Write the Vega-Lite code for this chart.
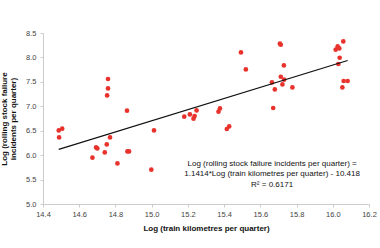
{
  "$schema": "https://vega.github.io/schema/vega-lite/v6.json",
  "width": 326,
  "height": 171,
  "autosize": {"type": "none"},
  "padding": {"left": 43, "top": 33, "right": 11, "bottom": 44},
  "background": "white",
  "config": {
    "view": {"stroke": null},
    "font": "Liberation Sans",
    "axis": {
      "grid": false,
      "domainColor": "#cccccc",
      "tickColor": "#cccccc",
      "tickSize": 3,
      "labelFont": "Liberation Sans",
      "labelFontSize": 7.5,
      "labelColor": "#444444",
      "titleFont": "Liberation Sans",
      "titleFontSize": 8,
      "titleFontWeight": "bold",
      "titleColor": "#111111"
    }
  },
  "datasets": {
    "points": [
      {"km": 14.487, "inc": 6.506}, {"km": 14.506, "inc": 6.541}, {"km": 14.489, "inc": 6.363},
      {"km": 14.673, "inc": 5.948}, {"km": 14.693, "inc": 6.158}, {"km": 14.700, "inc": 6.138},
      {"km": 14.741, "inc": 6.056}, {"km": 14.752, "inc": 6.220}, {"km": 14.770, "inc": 6.363},
      {"km": 14.759, "inc": 7.558}, {"km": 14.759, "inc": 7.366}, {"km": 14.754, "inc": 7.223},
      {"km": 14.811, "inc": 5.831}, {"km": 14.864, "inc": 6.910}, {"km": 14.866, "inc": 6.077},
      {"km": 14.875, "inc": 6.077}, {"km": 14.998, "inc": 5.702}, {"km": 15.013, "inc": 6.506},
      {"km": 15.180, "inc": 6.787}, {"km": 15.211, "inc": 6.834}, {"km": 15.237, "inc": 6.801},
      {"km": 15.231, "inc": 6.746}, {"km": 15.248, "inc": 6.916}, {"km": 15.369, "inc": 6.889},
      {"km": 15.377, "inc": 6.957}, {"km": 15.415, "inc": 6.535}, {"km": 15.428, "inc": 6.588},
      {"km": 15.493, "inc": 8.103}, {"km": 15.520, "inc": 7.755}, {"km": 15.664, "inc": 7.489},
      {"km": 15.671, "inc": 6.965}, {"km": 15.680, "inc": 7.345}, {"km": 15.708, "inc": 8.281},
      {"km": 15.713, "inc": 8.260}, {"km": 15.713, "inc": 7.605}, {"km": 15.722, "inc": 7.448},
      {"km": 15.730, "inc": 7.837}, {"km": 15.731, "inc": 7.544}, {"km": 15.777, "inc": 7.386},
      {"km": 16.016, "inc": 8.158}, {"km": 16.027, "inc": 8.226}, {"km": 16.036, "inc": 8.185},
      {"km": 16.058, "inc": 8.328}, {"km": 16.038, "inc": 7.994}, {"km": 16.031, "inc": 7.865},
      {"km": 16.060, "inc": 7.517}, {"km": 16.082, "inc": 7.517}, {"km": 16.053, "inc": 7.386}
    ],
    "fit": [
      {"km": 14.487, "inc": 6.118},
      {"km": 16.082, "inc": 7.938}
    ],
    "notes": [
      {"km": 15.665, "inc": 5.82, "label": "Log (rolling stock failure incidents per quarter) ="},
      {"km": 15.665, "inc": 5.605, "label": "1.1414*Log (train kilometres per quarter) - 10.418"},
      {"km": 15.665, "inc": 5.39, "label": "R² = 0.6171"}
    ]
  },
  "encoding": {
    "x": {
      "field": "km", "type": "quantitative",
      "scale": {"domain": [14.4, 16.2], "nice": false, "zero": false},
      "axis": {"title": "Log (train kilometres per quarter)", "tickCount": 10, "format": ".1f", "labelOverlap": false, "labelFlush": false, "labelPadding": 3, "titlePadding": 7}
    },
    "y": {
      "field": "inc", "type": "quantitative",
      "scale": {"domain": [5.0, 8.5], "nice": false, "zero": false},
      "axis": {"title": ["Log (rolling stock failure", "incidents per quarter)"], "tickCount": 7, "format": ".1f", "labelOverlap": false, "labelFlush": false, "labelPadding": 4, "titlePadding": 8, "titleLineHeight": 9}
    }
  },
  "layer": [
    {
      "data": {"name": "points"},
      "mark": {"type": "circle", "size": 22, "color": "#e8322c", "opacity": 1}
    },
    {
      "data": {"name": "fit"},
      "mark": {"type": "line", "color": "#111111", "strokeWidth": 1.2}
    },
    {
      "data": {"name": "notes"},
      "mark": {"type": "text", "fontSize": 8, "color": "#111111", "align": "center", "baseline": "middle", "font": "Liberation Sans"},
      "encoding": {
        "text": {"field": "label"}
      }
    }
  ]
}
